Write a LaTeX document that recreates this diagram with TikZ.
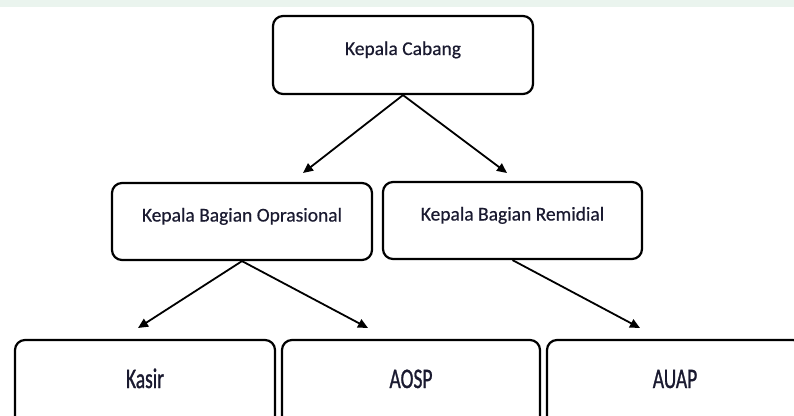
\documentclass[tikz,border=0pt]{standalone}
\usepackage{fontspec}
\setmainfont{Carlito}
\newfontfamily\midfont[FakeBold=0.5]{Carlito}
\newfontfamily\lowfont[FakeBold=1.2]{Carlito}
\usetikzlibrary{arrows.meta}
\definecolor{txt}{HTML}{1A1A30}
\definecolor{wm}{HTML}{EAF4EE}
\begin{document}
\begin{tikzpicture}[x=1pt,y=-1pt,
  box/.style={draw=black, line width=2.2pt, rounded corners=10pt,
    minimum width=#1, minimum height=78pt, inner sep=0pt,
    font=\midfont\fontsize{19.5}{20}\selectfont, text=txt,
    text height=13pt, text depth=13pt},
  box/.default=260pt,
  lowbox/.style={box=#1, minimum height=96pt,
    font=\lowfont\fontsize{19.5}{20}\selectfont},
  arr/.style={draw=black, line width=1.8pt, -{Triangle[length=10pt,width=9pt]}}
]
\useasboundingbox (0,0) rectangle (794,415);
\clip (0,0) rectangle (794,415);
\fill[wm] (0,0) rectangle (794,7);

\node[box] (kc) at (403,55) {Kepala Cabang};
\node[box, minimum height=77pt] (kbo) at (242,221.5) {Kepala Bagian Oprasional};
\node[box=259pt, minimum height=77pt] (kbr) at (512.5,220.5) {Kepala Bagian Remidial};

\node[lowbox=260pt] (kasir) at (145,388) {\scalebox{1}[1.45]{Kasir}};
\node[lowbox=258pt] (aosp) at (411,388) {\scalebox{1}[1.45]{AOSP}};
\node[lowbox=256pt] (auap) at (675,388) {\scalebox{1}[1.45]{AUAP}};

\coordinate (t1) at (303,173);
\coordinate (t2) at (507,173);
\coordinate (t3) at (138,328);
\coordinate (t4) at (368,328);
\coordinate (t5) at (640,328);

\draw[arr] (kc.south) -- (t1);
\draw[arr] (kc.south) -- (t2);
\draw[arr] (kbo.south) -- (t3);
\draw[arr] (kbo.south) -- (t4);
\draw[arr] (kbr.south) -- (t5);
\end{tikzpicture}
\end{document}
